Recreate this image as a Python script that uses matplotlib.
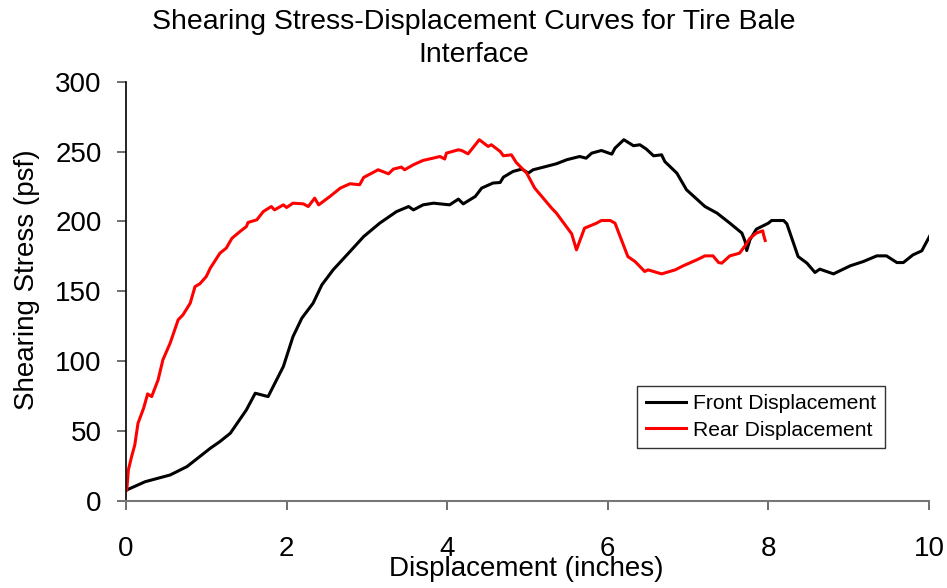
import matplotlib

matplotlib.use("Agg")
import matplotlib.pyplot as plt  # noqa: E402

plt.rcParams["font.family"] = ["Liberation Sans", "DejaVu Sans"]

# Front displacement (inches) vs shearing stress (psf)
front_x = [0.01, 0.24, 0.55, 0.76, 1.05, 1.17, 1.30, 1.50, 1.61, 1.77, 1.96, 2.08,
           2.19, 2.33, 2.44, 2.58, 2.79, 2.96, 3.16, 3.37, 3.52, 3.58, 3.70, 3.83,
           4.03, 4.14, 4.20, 4.35, 4.43, 4.57, 4.66, 4.70, 4.82, 4.93, 5.01, 5.07,
           5.20, 5.36, 5.49, 5.65, 5.73, 5.80, 5.92, 6.05, 6.09, 6.20, 6.32, 6.40,
           6.48, 6.57, 6.67, 6.71, 6.86, 6.98, 7.21, 7.36, 7.52, 7.67, 7.71, 7.73,
           7.77, 7.85, 8.00, 8.04, 8.19, 8.23, 8.37, 8.48, 8.58, 8.64, 8.81, 9.02,
           9.18, 9.35, 9.47, 9.60, 9.68, 9.80, 9.91, 10.01]
front_y = [7.9, 13.8, 18.6, 24.6, 37.7, 42.5, 48.5, 65.2, 77.1, 74.7, 96.2, 117.6,
           130.8, 141.5, 154.7, 165.4, 178.5, 189.2, 198.8, 207.1, 210.7, 208.3, 211.9, 213.1,
           211.9, 216.0, 212.6, 217.9, 223.9, 227.5, 227.9, 231.7, 235.8, 237.5, 234.6, 237.0,
           238.9, 241.3, 244.2, 246.5, 245.3, 248.9, 250.8, 248.2, 252.5, 258.5, 254.2, 254.9,
           251.8, 247.0, 247.7, 242.9, 234.6, 222.7, 210.7, 206.0, 198.8, 191.7, 185.7, 179.2,
           186.9, 194.5, 198.8, 200.7, 200.7, 198.3, 174.9, 170.2, 163.5, 165.9, 162.5, 168.3,
           171.3, 175.4, 175.4, 170.6, 170.6, 176.1, 179.0, 189.7]

# Rear displacement (inches) vs shearing stress (psf)
rear_x = [0.01, 0.03, 0.07, 0.11, 0.15, 0.22, 0.27, 0.32, 0.40, 0.46, 0.55, 0.65,
          0.71, 0.80, 0.86, 0.92, 1.00, 1.05, 1.17, 1.25, 1.32, 1.42, 1.50, 1.52,
          1.63, 1.71, 1.81, 1.85, 1.96, 2.00, 2.08, 2.21, 2.27, 2.35, 2.40, 2.54,
          2.67, 2.79, 2.91, 2.96, 3.14, 3.27, 3.33, 3.43, 3.47, 3.58, 3.70, 3.83,
          3.91, 3.97, 3.99, 4.14, 4.18, 4.26, 4.40, 4.51, 4.55, 4.66, 4.70, 4.80,
          4.86, 4.99, 5.09, 5.30, 5.36, 5.55, 5.61, 5.71, 5.86, 5.92, 6.03, 6.09,
          6.25, 6.34, 6.46, 6.50, 6.67, 6.84, 6.94, 7.11, 7.21, 7.31, 7.38, 7.42,
          7.52, 7.64, 7.71, 7.77, 7.85, 7.93, 7.94, 7.96]
rear_y = [7.9, 22.2, 31.7, 40.1, 55.6, 66.4, 76.6, 74.7, 86.6, 101.0, 112.9, 129.6,
          133.2, 141.5, 153.4, 155.4, 160.6, 166.6, 177.3, 181.0, 188.0, 192.8, 196.4, 199.3,
          201.2, 207.1, 210.7, 208.3, 211.9, 210.0, 213.1, 212.6, 210.7, 216.7, 211.9, 217.9,
          223.9, 227.0, 226.3, 231.5, 237.0, 234.1, 237.5, 238.9, 237.0, 240.6, 243.7, 245.4,
          246.5, 244.7, 248.9, 251.3, 250.8, 248.4, 258.5, 253.7, 254.9, 250.1, 247.0, 247.7,
          242.2, 234.6, 223.9, 209.6, 206.0, 191.2, 179.7, 195.2, 198.8, 200.7, 200.7, 198.8,
          174.9, 171.3, 164.2, 165.4, 162.5, 165.4, 168.3, 172.6, 175.4, 175.4, 170.6, 170.2,
          175.4, 177.3, 182.6, 188.0, 191.7, 193.3, 190.4, 186.4]

x_ticks = [0, 2, 4, 6, 8, 10]
y_ticks = [0, 50, 100, 150, 200, 250, 300]

fig = plt.figure(figsize=(9.47, 5.88), dpi=100)
ax = fig.add_axes([0.133, 0.148, 0.848, 0.713])

ax.plot(front_x, front_y, color="black", lw=2.2, label="Front Displacement")
ax.plot(rear_x, rear_y, color="#ff0000", lw=2.2, label="Rear Displacement")

ax.set_xlim(0, 10)
ax.set_ylim(0, 300)
ax.set_xticks(x_ticks)
ax.set_yticks(y_ticks)
ax.tick_params(axis="both", labelsize=20, direction="out", length=6.5, width=1.2,
               color="#555555")
ax.tick_params(axis="x", pad=19)
ax.tick_params(axis="y", pad=11)

for side in ("top", "right"):
    ax.spines[side].set_visible(False)
ax.spines["left"].set_color("black")
ax.spines["left"].set_linewidth(1.2)
ax.spines["bottom"].set_color("#777777")
ax.spines["bottom"].set_linewidth(1.5)

ax.set_xlabel("Displacement (inches)", fontsize=20, va="center")
ax.xaxis.set_label_coords(0.498, -0.163)
ax.set_ylabel("Shearing Stress (psf)", fontsize=20, va="center")
ax.yaxis.set_label_coords(-0.123, 0.528)

fig.text(0.5, 1 - 9 / 588, "Shearing Stress-Displacement Curves for Tire Bale\nInterface",
         ha="center", va="top", fontsize=20.5, linespacing=1.35)

leg = ax.legend(loc="lower right", bbox_to_anchor=(0.945, 0.126), borderaxespad=0,
                fontsize=15.2, frameon=True, fancybox=False, edgecolor="black",
                handlelength=1.9, handletextpad=0.35, borderpad=0.4,
                labelspacing=0.35)
leg.get_frame().set_linewidth(1.0)

fig.savefig("out.png", dpi=100)
